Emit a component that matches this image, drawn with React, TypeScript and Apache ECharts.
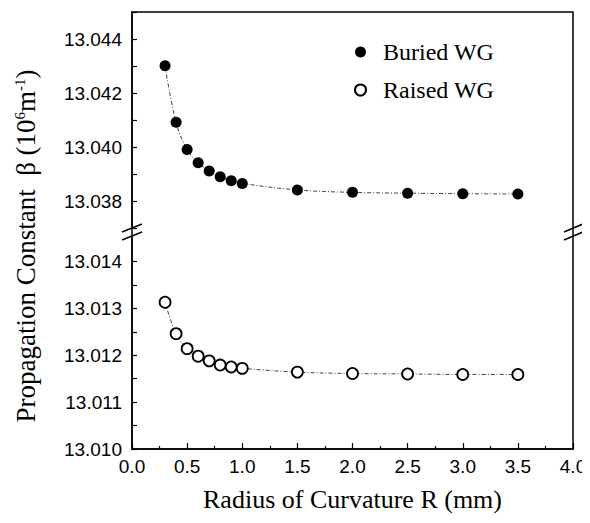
import React, { useEffect, useRef } from "react";
import * as echarts from "echarts";

const radius = [0.3, 0.4, 0.5, 0.6, 0.7, 0.8, 0.9, 1.0, 1.5, 2.0, 2.5, 3.0, 3.5];
const buriedWG = [13.04301, 13.04092, 13.03991, 13.03942, 13.03911, 13.0389, 13.03875, 13.03865, 13.03841, 13.03832, 13.03829, 13.03827, 13.03826];
const raisedWG = [13.01313, 13.01246, 13.01214, 13.01198, 13.01188, 13.01179, 13.01175, 13.01172, 13.01164, 13.01161, 13.0116, 13.01159, 13.01159];
const seriesNames = ["Buried WG", "Raised WG"];
const xTitle = "Radius of Curvature R (mm)";

const L = 132, R = 573, T = 12, B = 449;

export default function App() {
  const ref = useRef<HTMLDivElement>(null);
  useEffect(() => {
    if (!ref.current) return;
    const chart = echarts.init(ref.current, null, { renderer: "svg" });
    const sans = "Liberation Sans";
    const serif = "Liberation Serif";
    const upperLab = (v: number) => {
      const k = Math.round(v * 1000);
      if (k % 2 !== 0 || k <= 13037 || k >= 13045) return "";
      return (k / 1000).toFixed(3);
    };
    const lowerLab = (v: number) => {
      const k = Math.round(v * 2000);
      if (k % 2 !== 0) return "";
      return (k / 2000).toFixed(3);
    };
    const axisLine = { show: true, lineStyle: { color: "#000", width: 1.5 } };
    const lineStyle = { color: "#444", width: 1, type: [4, 2, 1, 2] as any };
    chart.setOption({
      animation: false,
      backgroundColor: "#fff",
      grid: [
        { left: L, top: T, width: R - L, height: 216 },
        { left: L, top: 238, width: R - L, height: B - 238 },
      ],
      xAxis: [
        { gridIndex: 0, type: "value", min: 0, max: 4, show: false },
        {
          gridIndex: 1, type: "value", min: 0, max: 4, interval: 0.5,
          axisLine,
          axisTick: { inside: true, length: 6, lineStyle: { color: "#000", width: 1.2 } },
          minorTick: { show: true, splitNumber: 2, length: 3, lineStyle: { color: "#000", width: 1.2 } },
          splitLine: { show: false },
          axisLabel: { color: "#000", fontFamily: sans, fontSize: 19, margin: 8, formatter: (v: number) => v.toFixed(1) },
          name: xTitle, nameLocation: "middle", nameGap: 37,
          nameTextStyle: { color: "#000", fontFamily: serif, fontSize: 26 },
        },
      ],
      yAxis: [
        {
          gridIndex: 0, type: "value", min: 13.037, max: 13.045, interval: 0.001,
          axisLine,
          axisTick: { inside: true, length: 5, lineStyle: { color: "#000", width: 1.2 } },
          splitLine: { show: false },
          axisLabel: { color: "#000", fontFamily: sans, fontSize: 19, margin: 10, formatter: upperLab },
        },
        {
          gridIndex: 1, type: "value", min: 13.01, max: 13.0145, interval: 0.0005,
          axisLine,
          axisTick: { inside: true, length: 5, lineStyle: { color: "#000", width: 1.2 } },
          splitLine: { show: false },
          axisLabel: { color: "#000", fontFamily: sans, fontSize: 19, margin: 10, formatter: lowerLab, showMaxLabel: false },
        },
      ],
      legend: {
        orient: "vertical", left: 349, top: 35, itemWidth: 11, itemHeight: 11, itemGap: 14,
        icon: "circle",
        data: seriesNames,
        textStyle: { color: "#000", fontFamily: serif, fontSize: 24, padding: [0, 0, 0, 12] },
      },
      series: [
        {
          name: seriesNames[0], type: "line", xAxisIndex: 0, yAxisIndex: 0,
          data: radius.map((x, i) => [x, buriedWG[i]]),
          smooth: 0.4, symbol: "circle", symbolSize: 11,
          itemStyle: { color: "#000" }, lineStyle,
        },
        {
          name: seriesNames[1], type: "line", xAxisIndex: 1, yAxisIndex: 1,
          data: radius.map((x, i) => [x, raisedWG[i]]),
          smooth: 0.4, symbol: "circle", symbolSize: 11,
          itemStyle: { color: "#fff", borderColor: "#000", borderWidth: 1.8 }, lineStyle,
        },
      ],
      graphic: [
        { type: "rect", shape: { x: L, y: T, width: R - L, height: B - T }, style: { fill: "none", stroke: "#000", lineWidth: 1.5 }, silent: true },
        { type: "line", shape: { x1: 122, y1: 232, x2: 142, y2: 224 }, style: { stroke: "#000", lineWidth: 1.5 } },
        { type: "line", shape: { x1: 122, y1: 240, x2: 142, y2: 232 }, style: { stroke: "#000", lineWidth: 1.5 } },
        { type: "line", shape: { x1: 564, y1: 232, x2: 583, y2: 224 }, style: { stroke: "#000", lineWidth: 1.5 } },
        { type: "line", shape: { x1: 564, y1: 240, x2: 583, y2: 232 }, style: { stroke: "#000", lineWidth: 1.5 } },
        {
          type: "text", x: 26, y: 246, rotation: Math.PI / 2,
          style: {
            text: "Propagation Constant  β (10{sup|6}m{sup|-1})",
            fontFamily: serif, fontSize: 27, fill: "#000",
            align: "center", verticalAlign: "middle",
            rich: { sup: { fontFamily: serif, fontSize: 15, padding: [0, 0, 13, 0], fill: "#000" } },
          },
        },
      ],
    });
    return () => chart.dispose();
  }, []);
  return <div ref={ref} style={{ width: 590, height: 523, margin: -8 }} />;
}
